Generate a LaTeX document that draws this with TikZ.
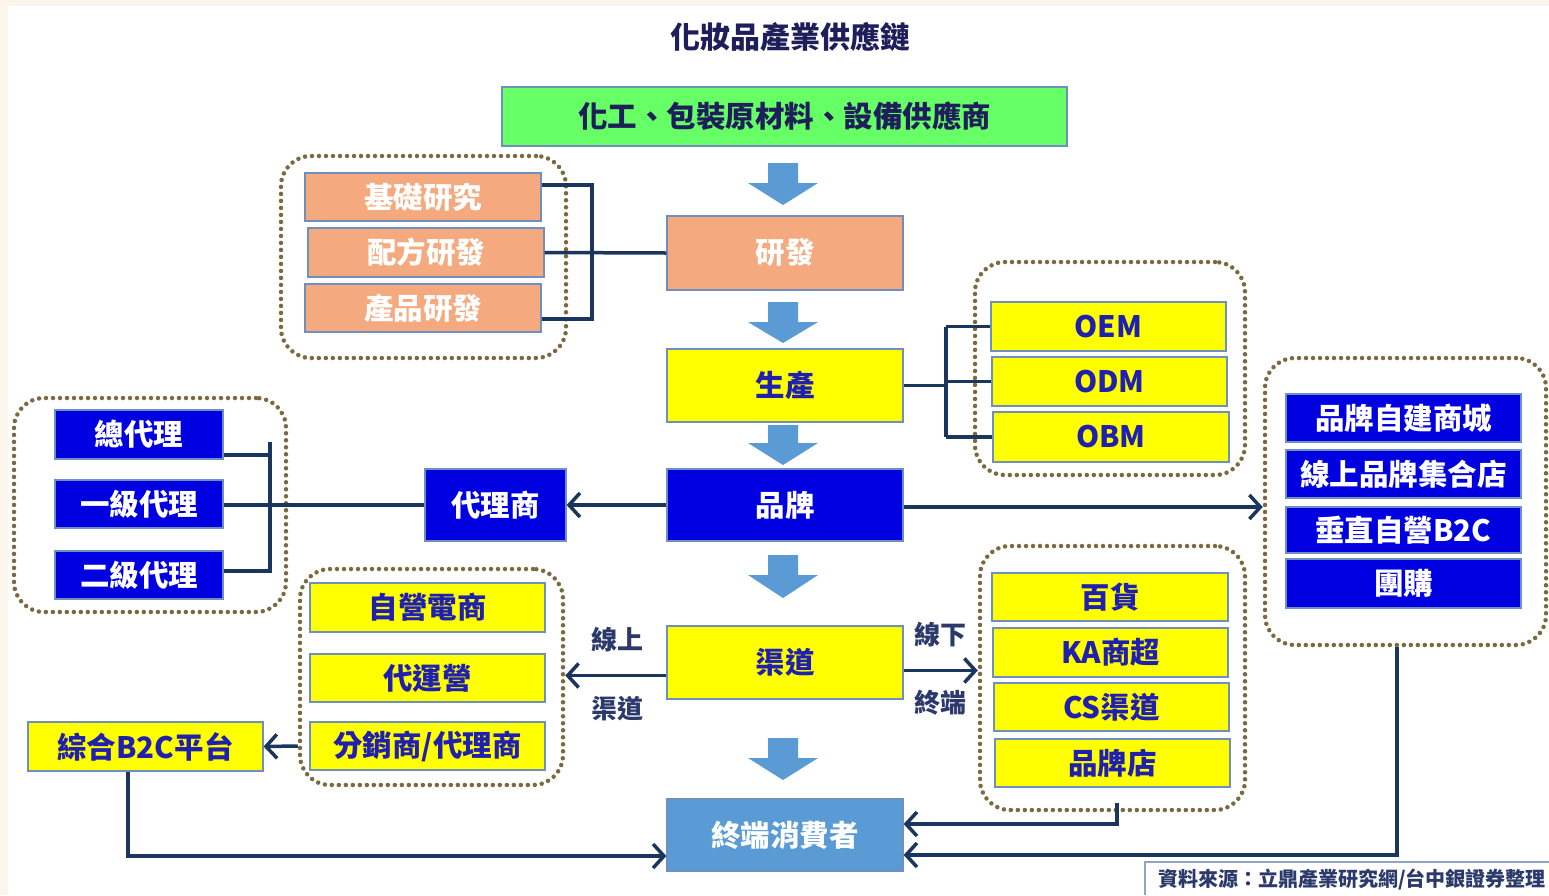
\documentclass[tikz,border=0pt]{standalone}
\usepackage{fontspec}
\setmainfont{Noto Sans CJK TC}
\usetikzlibrary{arrows.meta}
\definecolor{cream}{HTML}{FCF5EC}
\definecolor{grn}{HTML}{66FF66}
\definecolor{sal}{HTML}{F4A97E}
\definecolor{yel}{HTML}{FFFF00}
\definecolor{blu}{HTML}{0000E1}
\definecolor{cons}{HTML}{5B9BD5}
\definecolor{boxline}{HTML}{6F8FBF}
\definecolor{ytxt}{HTML}{1F1FB0}
\definecolor{navy}{HTML}{1E1E5A}
\definecolor{lbl}{HTML}{2B3A6B}
\definecolor{dotc}{HTML}{7B6A3F}
\definecolor{conc}{HTML}{1B365D}
\definecolor{srcl}{HTML}{8FA5C0}
\newcommand\downarr[3]{\fill[cons] (768,#1) -- (798,#1) -- (798,#2) -- (818,#2) -- (783,#3) -- (748,#2) -- (768,#2) -- cycle;}
\begin{document}
\begin{tikzpicture}[x=1pt,y=-1pt,
  box/.style={draw=boxline, line width=1.2pt, inner sep=0pt, font=\fontsize{29.5}{31}\selectfont\bfseries},
  ybox/.style={box, fill=yel, text=ytxt},
  bbox/.style={box, fill=blu, text=white},
  obox/.style={box, fill=sal, text=white},
  grp/.style={draw=dotc, line width=4.5pt, dash pattern=on 0pt off 7pt, line cap=round, rounded corners=30pt, inner sep=0pt},
  conn/.style={draw=conc, line width=3.5pt},
  arr/.style={conn, -{Straight Barb[length=11pt,width=24pt]}},
  lab/.style={text=lbl, font=\fontsize{26}{28}\selectfont\bfseries}
]
\useasboundingbox (0,0) rectangle (1549,895);
\fill[cream] (0,0) rectangle (1549,895);
\fill[white] (8,6) rectangle (1549,895);

% title
\node[text=navy, font=\fontsize{30}{32}\selectfont\bfseries] (title) at (790,37) {化妝品產業供應鏈};

% groups
\node[grp, minimum width=285pt, minimum height=202pt] (gRD) at (423.5,257) {};
\node[grp, minimum width=270pt, minimum height=213pt] (gOEM) at (1110,368.5) {};
\node[grp, minimum width=272pt, minimum height=214pt] (gAG) at (150,505) {};
\node[grp, minimum width=281pt, minimum height=287pt] (gEC) at (1405.5,501.5) {};
\node[grp, minimum width=263pt, minimum height=216pt] (gON) at (431.5,677) {};
\node[grp, minimum width=265pt, minimum height=264pt] (gOFF) at (1112.5,678) {};

% main column
\node[box, fill=grn, text=navy, minimum width=565pt, minimum height=59pt] (sup) at (784.5,116.5) {化工、包裝原材料、設備供應商};
\node[obox, minimum width=236pt, minimum height=74pt] (rd) at (785,253) {研發};
\node[ybox, minimum width=236pt, minimum height=73pt] (prod) at (785,385.5) {生產};
\node[bbox, minimum width=236pt, minimum height=72pt] (brand) at (785,505) {品牌};
\node[ybox, minimum width=236pt, minimum height=73pt] (chan) at (785,662.5) {渠道};
\node[box, fill=cons, text=white, minimum width=236pt, minimum height=72pt] (cons) at (785,835) {終端消費者};

% R&D
\node[obox, minimum width=236pt, minimum height=48pt] (r1) at (423,197) {基礎研究};
\node[obox, minimum width=236pt, minimum height=49pt] (r2) at (426,252.5) {配方研發};
\node[obox, minimum width=236pt, minimum height=48pt] (r3) at (423,308) {產品研發};

% production types
\node[ybox, minimum width=235pt, minimum height=49pt] (oem) at (1108.5,326.5) {OEM};
\node[ybox, minimum width=235pt, minimum height=49pt] (odm) at (1109.5,381.5) {ODM};
\node[ybox, minimum width=236pt, minimum height=50pt] (obm) at (1111,437) {OBM};

% agents
\node[bbox, minimum width=168pt, minimum height=49pt] (a1) at (139,434.5) {總代理};
\node[bbox, minimum width=168pt, minimum height=48pt] (a2) at (139,504) {一級代理};
\node[bbox, minimum width=168pt, minimum height=48pt] (a3) at (139,575) {二級代理};
\node[bbox, minimum width=141pt, minimum height=72pt] (agent) at (495.5,505) {代理商};

% e-commerce
\node[bbox, minimum width=235pt, minimum height=48pt] (e1) at (1403.5,418) {品牌自建商城};
\node[bbox, minimum width=235pt, minimum height=48pt] (e2) at (1403.5,474) {線上品牌集合店};
\node[bbox, minimum width=235pt, minimum height=46pt] (e3) at (1403.5,530) {垂直自營B2C};
\node[bbox, minimum width=235pt, minimum height=49pt] (e4) at (1403.5,583.5) {團購};

% online
\node[ybox, minimum width=235pt, minimum height=49pt] (o1) at (427.5,607.5) {自營電商};
\node[ybox, minimum width=235pt, minimum height=48pt] (o2) at (427.5,678) {代運營};
\node[ybox, minimum width=235pt, minimum height=48pt] (o3) at (427.5,746) {分銷商/代理商};
\node[ybox, minimum width=235pt, minimum height=49pt] (b2c) at (145.5,746.5) {綜合B2C平台};

% offline
\node[ybox, minimum width=236pt, minimum height=48pt] (f1) at (1110,597) {百貨};
\node[ybox, minimum width=235pt, minimum height=49pt] (f2) at (1110.5,652.5) {KA商超};
\node[ybox, minimum width=235pt, minimum height=48pt] (f3) at (1111.5,707) {CS渠道};
\node[ybox, minimum width=235pt, minimum height=48pt] (f4) at (1112.5,763) {品牌店};

% block arrows
\downarr{163}{183}{205}
\downarr{302}{322}{343}
\downarr{425}{443}{465}
\downarr{555}{575}{598}
\downarr{738}{758}{780}

% R&D bracket
\coordinate (rdt) at (592,185);
\coordinate (rdb) at (592,319);
\draw[conn] (r1.east |- rdt) -- (rdt) -- (rdb) -- (r3.east |- rdb);
\draw[conn] (r2.east) -- (rd.west);

% OEM bracket
\coordinate (oj) at (946,386);
\draw[conn] (prod.east) -- (prod.east -| oj);
\draw[conn] (oj |- oem.west) -- (oj |- obm.west);
\draw[conn] (oj |- oem.west) -- (oem.west);
\draw[conn] (oj |- odm.west) -- (odm.west);
\draw[conn] (oj |- obm.west) -- (obm.west);

% agent bracket
\coordinate (at) at (270,442);
\coordinate (ab) at (270,573);
\coordinate (aj1) at (270,455);
\coordinate (aj3) at (270,571);
\draw[conn] (at) -- (ab);
\draw[conn] (a1.east |- aj1) -- (aj1);
\draw[conn] (a3.east |- aj3) -- (aj3);
\draw[conn] (a2.east |- agent.west) -- (agent.west);

% brand arrows
\draw[arr] (brand.west) -- (agent.east);
\draw[arr] ([yshift=-2pt]brand.east) -- ([yshift=-2pt]brand.east -| gEC.west);

% channel arrows
\draw[arr] ([yshift=-13pt]chan.west) -- ([yshift=-13pt]chan.west -| gON.east);
\draw[arr] ([yshift=-8pt]chan.east) -- ([yshift=-8pt]chan.east -| gOFF.west);
\draw[arr] (o3.west -| gON.west) -- (b2c.east);

% to consumer
\coordinate (ecx) at (1397,855);
\draw[arr] (gEC.south -| ecx) -- (ecx) -- (ecx -| cons.east);
\coordinate (ofx) at (1117,824);
\draw[arr] (1117,803) -- (ofx) -- (ofx -| cons.east);
\coordinate (bx) at (128,856);
\draw[arr] (b2c.south -| bx) -- (bx) -- (bx -| cons.west);

% labels
\node[lab] (l1) at (617,640) {線上};
\node[lab] (l2) at (617,709) {渠道};
\node[lab] (l3) at (940,635) {線下};
\node[lab] (l4) at (940,703) {終端};

% source
\draw[srcl, line width=1.5pt] (1145,895) -- (1145,862) -- (1549,862);
\node[text=lbl, font=\fontsize{20}{22}\selectfont\bfseries] (src) at (1352,880) {資料來源：立鼎產業研究網/台中銀證券整理};
\end{tikzpicture}
\end{document}
